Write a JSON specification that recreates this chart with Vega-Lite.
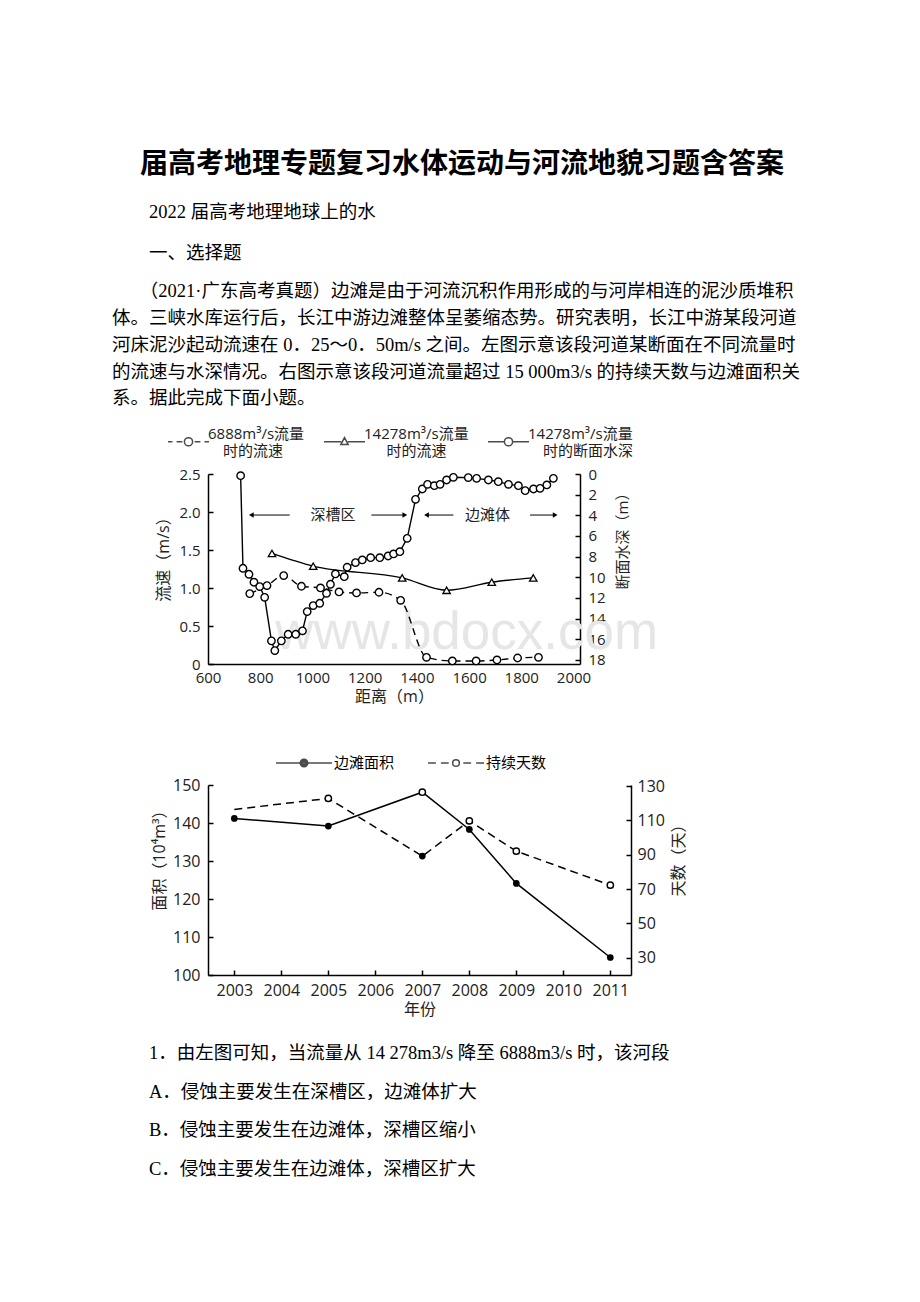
{
  "$schema": "https://vega.github.io/schema/vega-lite/v6.json",
  "autosize": {"type": "none"},
  "padding": {"left": 208, "top": 474, "right": 712, "bottom": 828},
  "background": "white",
  "title": {
    "text": "\u200b\u3000届高考地理专题复习水体运动与河流地貌习题含答案",
    "subtitle": ["\u200b\u3000\u30002022 届高考地理地球上的水", "\u200b\u3000\u3000一、选择题"],
    "anchor": "start", "frame": "group", "dx": -96, "offset": 20,
    "font": "Noto Sans CJK SC", "fontSize": 28, "fontWeight": "bold", "color": "black",
    "subtitleFont": "Liberation Serif, Noto Sans CJK SC", "subtitleFontSize": 18.5, "subtitleColor": "black",
    "subtitleLineHeight": 41, "subtitlePadding": 24
  },
  "datasets": {
    "v6888": [
      {"d": 760, "v": 0.926}, {"d": 826, "v": 1.032}, {"d": 890, "v": 1.164}, {"d": 958, "v": 1.023},
      {"d": 1031, "v": 1.001}, {"d": 1102, "v": 0.948}, {"d": 1169, "v": 0.935}, {"d": 1255, "v": 0.944},
      {"d": 1338, "v": 0.838}, {"d": 1437, "v": 0.088}, {"d": 1536, "v": 0.04}, {"d": 1627, "v": 0.04},
      {"d": 1707, "v": 0.053}, {"d": 1786, "v": 0.079}, {"d": 1866, "v": 0.088}
    ],
    "v14278": [
      {"d": 845, "v": 1.455}, {"d": 1003, "v": 1.287}, {"d": 1344, "v": 1.133},
      {"d": 1514, "v": 0.97}, {"d": 1687, "v": 1.076}, {"d": 1846, "v": 1.133}
    ],
    "depth": [
      {"d": 725, "h": 0.16}, {"d": 734, "h": 9.13}, {"d": 757, "h": 9.71}, {"d": 776, "h": 10.48},
      {"d": 798, "h": 10.9}, {"d": 817, "h": 11.94}, {"d": 843, "h": 16.16}, {"d": 856, "h": 17.1},
      {"d": 881, "h": 16.16}, {"d": 907, "h": 15.52}, {"d": 936, "h": 15.52}, {"d": 962, "h": 15.19},
      {"d": 980, "h": 13.32}, {"d": 1003, "h": 12.74}, {"d": 1028, "h": 12.52}, {"d": 1054, "h": 11.55},
      {"d": 1069, "h": 10.68}, {"d": 1088, "h": 9.68}, {"d": 1122, "h": 9.94}, {"d": 1133, "h": 9.03},
      {"d": 1165, "h": 8.58}, {"d": 1191, "h": 8.32}, {"d": 1223, "h": 8.1}, {"d": 1258, "h": 8.1},
      {"d": 1290, "h": 7.94}, {"d": 1311, "h": 7.74}, {"d": 1335, "h": 7.52}, {"d": 1363, "h": 6.23},
      {"d": 1395, "h": 2.45}, {"d": 1421, "h": 1.45}, {"d": 1441, "h": 1.0}, {"d": 1467, "h": 1.13},
      {"d": 1489, "h": 1.0}, {"d": 1514, "h": 0.58}, {"d": 1540, "h": 0.32}, {"d": 1597, "h": 0.35},
      {"d": 1629, "h": 0.42}, {"d": 1674, "h": 0.58}, {"d": 1712, "h": 0.74}, {"d": 1751, "h": 1.0},
      {"d": 1789, "h": 1.13}, {"d": 1815, "h": 1.61}, {"d": 1847, "h": 1.45}, {"d": 1872, "h": 1.39},
      {"d": 1898, "h": 1.06}, {"d": 1923, "h": 0.42}
    ],
    "ann": [
      {"t": "深槽区", "d": 1079, "v": 1.96},
      {"t": "边滩体", "d": 1671, "v": 1.96}
    ],
    "arrows": [
      {"d": 913, "d2": 766, "v": 1.96, "dir": "l"},
      {"d": 1226, "d2": 1354, "v": 1.96, "dir": "r"},
      {"d": 1540, "d2": 1437, "v": 1.96, "dir": "l"},
      {"d": 1834, "d2": 1930, "v": 1.96, "dir": "r"}
    ],
    "area": [
      {"year": 2003, "a": 141.2}, {"year": 2005, "a": 139.2}, {"year": 2007, "a": 148.1},
      {"year": 2008, "a": 138.3}, {"year": 2009, "a": 124.1}, {"year": 2011, "a": 104.6}
    ],
    "days": [
      {"year": 2003, "n": 116.4}, {"year": 2005, "n": 122.8}, {"year": 2007, "n": 89.2},
      {"year": 2008, "n": 109.7}, {"year": 2009, "n": 92.1}, {"year": 2011, "n": 72.3}
    ]
  },
  "bounds": "flush",
  "spacing": 121,
  "vconcat": [
    {
      "width": 372,
      "height": 190,
      "title": {
        "text": [
          "\u200b\u3000\u3000（2021·广东高考真题）边滩是由于河流沉积作用形成的与河岸相连的泥沙质堆积",
          "体。三峡水库运行后，长江中游边滩整体呈萎缩态势。研究表明，长江中游某段河道",
          "河床泥沙起动流速在 0．25～0．50m/s 之间。左图示意该段河道某断面在不同流量时",
          "的流速与水深情况。右图示意该段河道流量超过 15 000m3/s 的持续天数与边滩面积关",
          "系。据此完成下面小题。"
        ],
        "anchor": "start", "frame": "group", "dx": -96, "offset": 12,
        "font": "Liberation Serif, Noto Sans CJK SC", "fontSize": 18.5, "fontWeight": "normal",
        "color": "black", "lineHeight": 26.8
      },
      "layer": [
        {
          "layer": [
            {
              "data": {"values": [{"t": "www.bdocx.com", "d": 1591, "v": 0.41}]},
              "mark": {"type": "text", "font": "Liberation Sans", "fontSize": 53, "color": "#e6e6e6"},
              "encoding": {
                "x": {"field": "d", "type": "quantitative", "scale": {"domain": [600, 2025], "nice": false, "zero": false},
                  "axis": {"orient": "bottom", "title": "距离（m）", "values": [600, 800, 1000, 1200, 1400, 1600, 1800, 2000], "format": "d",
                    "ticks": false, "labelPadding": 6, "labelFontSize": 15, "titleFontSize": 16, "titlePadding": 3}},
                "y": {"field": "v", "type": "quantitative", "scale": {"domain": [0, 2.5], "nice": false},
                  "axis": {"orient": "left", "title": "流速（m/s）", "values": [0, 0.5, 1, 1.5, 2, 2.5],
                    "labelExpr": "datum.value == 0 ? '0' : format(datum.value, '.1f')",
                    "tickSize": -5, "labelPadding": 13, "labelFontSize": 15, "titleFontSize": 16, "titlePadding": 7, "titleY": 81}},
                "text": {"field": "t"}
              }
            },
            {
              "data": {"name": "v6888"},
              "mark": {"type": "line", "color": "black", "strokeWidth": 1.4, "strokeDash": [7, 5], "interpolate": "monotone",
                "point": {"filled": true, "fill": "white", "stroke": "black", "strokeWidth": 1.4, "size": 55}},
              "encoding": {
                "x": {"field": "d", "type": "quantitative", "scale": {"domain": [600, 2025], "nice": false, "zero": false},
                  "axis": {"orient": "bottom", "title": "距离（m）", "values": [600, 800, 1000, 1200, 1400, 1600, 1800, 2000], "format": "d",
                    "ticks": false, "labelPadding": 6, "labelFontSize": 15, "titleFontSize": 16, "titlePadding": 3}},
                "y": {"field": "v", "type": "quantitative", "scale": {"domain": [0, 2.5], "nice": false},
                  "axis": {"orient": "left", "title": "流速（m/s）", "values": [0, 0.5, 1, 1.5, 2, 2.5],
                    "labelExpr": "datum.value == 0 ? '0' : format(datum.value, '.1f')",
                    "tickSize": -5, "labelPadding": 13, "labelFontSize": 15, "titleFontSize": 16, "titlePadding": 7, "titleY": 81}}
              }
            },
            {
              "data": {"name": "v14278"},
              "mark": {"type": "line", "color": "black", "strokeWidth": 1.4, "interpolate": "monotone",
                "point": {"shape": "triangle-up", "filled": true, "fill": "white", "stroke": "black", "strokeWidth": 1.3, "size": 55}},
              "encoding": {
                "x": {"field": "d", "type": "quantitative", "scale": {"domain": [600, 2025], "nice": false, "zero": false},
                  "axis": {"orient": "bottom", "title": "距离（m）", "values": [600, 800, 1000, 1200, 1400, 1600, 1800, 2000], "format": "d",
                    "ticks": false, "labelPadding": 6, "labelFontSize": 15, "titleFontSize": 16, "titlePadding": 3}},
                "y": {"field": "v", "type": "quantitative", "scale": {"domain": [0, 2.5], "nice": false},
                  "axis": {"orient": "left", "title": "流速（m/s）", "values": [0, 0.5, 1, 1.5, 2, 2.5],
                    "labelExpr": "datum.value == 0 ? '0' : format(datum.value, '.1f')",
                    "tickSize": -5, "labelPadding": 13, "labelFontSize": 15, "titleFontSize": 16, "titlePadding": 7, "titleY": 81}}
              }
            },
            {
              "data": {"name": "ann"},
              "mark": {"type": "text", "font": "Noto Sans CJK SC", "fontSize": 15, "color": "#222"},
              "encoding": {
                "x": {"field": "d", "type": "quantitative", "scale": {"domain": [600, 2025], "nice": false, "zero": false},
                  "axis": {"orient": "bottom", "title": "距离（m）", "values": [600, 800, 1000, 1200, 1400, 1600, 1800, 2000], "format": "d",
                    "ticks": false, "labelPadding": 6, "labelFontSize": 15, "titleFontSize": 16, "titlePadding": 3}},
                "y": {"field": "v", "type": "quantitative", "scale": {"domain": [0, 2.5], "nice": false},
                  "axis": {"orient": "left", "title": "流速（m/s）", "values": [0, 0.5, 1, 1.5, 2, 2.5],
                    "labelExpr": "datum.value == 0 ? '0' : format(datum.value, '.1f')",
                    "tickSize": -5, "labelPadding": 13, "labelFontSize": 15, "titleFontSize": 16, "titlePadding": 7, "titleY": 81}},
                "text": {"field": "t"}
              }
            },
            {
              "data": {"name": "arrows"},
              "mark": {"type": "rule", "color": "black", "strokeWidth": 1},
              "encoding": {
                "x": {"field": "d", "type": "quantitative", "scale": {"domain": [600, 2025], "nice": false, "zero": false},
                  "axis": {"orient": "bottom", "title": "距离（m）", "values": [600, 800, 1000, 1200, 1400, 1600, 1800, 2000], "format": "d",
                    "ticks": false, "labelPadding": 6, "labelFontSize": 15, "titleFontSize": 16, "titlePadding": 3}},
                "x2": {"field": "d2"},
                "y": {"field": "v", "type": "quantitative", "scale": {"domain": [0, 2.5], "nice": false},
                  "axis": {"orient": "left", "title": "流速（m/s）", "values": [0, 0.5, 1, 1.5, 2, 2.5],
                    "labelExpr": "datum.value == 0 ? '0' : format(datum.value, '.1f')",
                    "tickSize": -5, "labelPadding": 13, "labelFontSize": 15, "titleFontSize": 16, "titlePadding": 7, "titleY": 81}}
              }
            },
            {
              "data": {"name": "arrows"},
              "transform": [{"filter": "datum.dir == 'l'"}],
              "mark": {"type": "point", "shape": "triangle-left", "filled": true, "color": "black", "size": 30, "opacity": 1},
              "encoding": {
                "x": {"field": "d2", "type": "quantitative", "scale": {"domain": [600, 2025], "nice": false, "zero": false},
                  "axis": {"orient": "bottom", "title": "距离（m）", "values": [600, 800, 1000, 1200, 1400, 1600, 1800, 2000], "format": "d",
                    "ticks": false, "labelPadding": 6, "labelFontSize": 15, "titleFontSize": 16, "titlePadding": 3}},
                "y": {"field": "v", "type": "quantitative", "scale": {"domain": [0, 2.5], "nice": false},
                  "axis": {"orient": "left", "title": "流速（m/s）", "values": [0, 0.5, 1, 1.5, 2, 2.5],
                    "labelExpr": "datum.value == 0 ? '0' : format(datum.value, '.1f')",
                    "tickSize": -5, "labelPadding": 13, "labelFontSize": 15, "titleFontSize": 16, "titlePadding": 7, "titleY": 81}}
              }
            },
            {
              "data": {"name": "arrows"},
              "transform": [{"filter": "datum.dir == 'r'"}],
              "mark": {"type": "point", "shape": "triangle-right", "filled": true, "color": "black", "size": 30, "opacity": 1},
              "encoding": {
                "x": {"field": "d2", "type": "quantitative", "scale": {"domain": [600, 2025], "nice": false, "zero": false},
                  "axis": {"orient": "bottom", "title": "距离（m）", "values": [600, 800, 1000, 1200, 1400, 1600, 1800, 2000], "format": "d",
                    "ticks": false, "labelPadding": 6, "labelFontSize": 15, "titleFontSize": 16, "titlePadding": 3}},
                "y": {"field": "v", "type": "quantitative", "scale": {"domain": [0, 2.5], "nice": false},
                  "axis": {"orient": "left", "title": "流速（m/s）", "values": [0, 0.5, 1, 1.5, 2, 2.5],
                    "labelExpr": "datum.value == 0 ? '0' : format(datum.value, '.1f')",
                    "tickSize": -5, "labelPadding": 13, "labelFontSize": 15, "titleFontSize": 16, "titlePadding": 7, "titleY": 81}}
              }
            }
          ]
        },
        {
          "layer": [
            {
              "data": {"name": "depth"},
              "mark": {"type": "line", "color": "black", "strokeWidth": 1.4,
                "point": {"filled": true, "fill": "white", "stroke": "black", "strokeWidth": 1.4, "size": 55}},
              "encoding": {
                "x": {"field": "d", "type": "quantitative", "scale": {"domain": [600, 2025], "nice": false, "zero": false},
                  "axis": {"orient": "bottom", "title": "距离（m）", "values": [600, 800, 1000, 1200, 1400, 1600, 1800, 2000], "format": "d",
                    "ticks": false, "labelPadding": 6, "labelFontSize": 15, "titleFontSize": 16, "titlePadding": 3}},
                "y": {"field": "h", "type": "quantitative", "scale": {"domain": [0, 18.4], "nice": false, "reverse": true},
                  "axis": {"orient": "right", "title": "断面水深（m）", "values": [0, 2, 4, 6, 8, 10, 12, 14, 16, 18],
                    "tickSize": -5, "labelPadding": 13, "labelFontSize": 15, "titleFontSize": 15, "titlePadding": 10,
                    "titleAngle": -90, "titleBaseline": "top", "titleY": 63}}
              }
            }
          ]
        },
        {
          "data": {"values": [{"s": "x"}]},
          "transform": [{"filter": "false"}],
          "mark": {"type": "point", "filled": false, "stroke": "black"},
          "encoding": {
            "shape": {
              "field": "s", "type": "nominal",
              "scale": {
                "domain": ["6888m³/s流量|\u200b\u3000时的流速", "14278m³/s流量|\u200b\u3000\u2002时的流速", "14278m³/s流量|\u200b\u3000时的断面水深"],
                "range": [
                  "M-1,0H-0.78M-0.58,0H-0.3M-0.2,0A0.2,0.2 0 1,0 0.2,0A0.2,0.2 0 1,0 -0.2,0M0.3,0H0.58M0.78,0H1",
                  "M-1,0H-0.16M0.16,0H1M0,-0.2L0.18,0.14L-0.18,0.14Z",
                  "M-1,0H-0.2M-0.2,0A0.2,0.2 0 1,0 0.2,0A0.2,0.2 0 1,0 -0.2,0M0.2,0H1"
                ]
              },
              "legend": {
                "orient": "none", "legendX": -41, "legendY": -54, "direction": "horizontal", "columns": 3,
                "title": null, "padding": 0, "symbolSize": 1681,
                "labelExpr": "split(datum.label, '|')", "labelFont": "Open Sans, Noto Sans CJK SC",
                "labelFontSize": 15, "labelColor": "#222", "labelAlign": "left", "labelBaseline": "bottom",
                "labelOffset": -2, "labelLimit": 0, "columnPadding": 16,
                "encode": {
                  "symbols": {"update": {
                    "stroke": {"value": "black"}, "strokeWidth": {"value": 1.3},
                    "fill": {"value": "white"}, "opacity": {"value": 1}, "fillOpacity": {"value": 1}, "strokeOpacity": {"value": 1}
                  }}
                }
              }
            }
          }
        }
      ],
      "resolve": {"scale": {"y": "independent"}}
    },
    {
      "width": 423,
      "height": 190,
      "title": {
        "text": [
          "\u200b\u3000\u30001．由左图可知，当流量从 14 278m3/s 降至 6888m3/s 时，该河段",
          "\u200b\u3000\u3000A．侵蚀主要发生在深槽区，边滩体扩大",
          "\u200b\u3000\u3000B．侵蚀主要发生在边滩体，深槽区缩小",
          "\u200b\u3000\u3000C．侵蚀主要发生在边滩体，深槽区扩大"
        ],
        "orient": "bottom", "anchor": "start", "frame": "group", "dx": -96, "offset": 27,
        "font": "Liberation Serif, Noto Sans CJK SC", "fontSize": 18.5, "fontWeight": "normal",
        "color": "black", "lineHeight": 38.7
      },
      "layer": [
        {
          "layer": [
            {
              "data": {"name": "area"},
              "mark": {"type": "line", "color": "black", "strokeWidth": 1.5},
              "encoding": {
                "x": {"field": "year", "type": "quantitative", "scale": {"domain": [2002.44, 2011.44], "nice": false, "zero": false},
                  "axis": {"orient": "bottom", "title": "年份", "values": [2003, 2004, 2005, 2006, 2007, 2008, 2009, 2010, 2011], "format": "d",
                    "tickSize": -5, "labelPadding": 12, "labelFontSize": 16, "titleFontSize": 16, "titlePadding": 3}},
                "y": {"field": "a", "type": "quantitative", "scale": {"domain": [100, 150], "nice": false, "zero": false},
                  "axis": {"orient": "left", "title": "面积（10⁴m³）", "values": [100, 110, 120, 130, 140, 150],
                    "tickSize": -5, "labelPadding": 13, "labelFontSize": 16, "titleFontSize": 16, "titlePadding": 5, "titleY": 71}}
              }
            },
            {
              "data": {"name": "area"},
              "transform": [{"filter": "datum.year != 2007"}],
              "mark": {"type": "point", "filled": true, "color": "black", "size": 45, "opacity": 1},
              "encoding": {
                "x": {"field": "year", "type": "quantitative", "scale": {"domain": [2002.44, 2011.44], "nice": false, "zero": false},
                  "axis": {"orient": "bottom", "title": "年份", "values": [2003, 2004, 2005, 2006, 2007, 2008, 2009, 2010, 2011], "format": "d",
                    "tickSize": -5, "labelPadding": 12, "labelFontSize": 16, "titleFontSize": 16, "titlePadding": 3}},
                "y": {"field": "a", "type": "quantitative", "scale": {"domain": [100, 150], "nice": false, "zero": false},
                  "axis": {"orient": "left", "title": "面积（10⁴m³）", "values": [100, 110, 120, 130, 140, 150],
                    "tickSize": -5, "labelPadding": 13, "labelFontSize": 16, "titleFontSize": 16, "titlePadding": 5, "titleY": 71}}
              }
            },
            {
              "data": {"name": "area"},
              "transform": [{"filter": "datum.year == 2007"}],
              "mark": {"type": "point", "filled": true, "fill": "white", "stroke": "black", "strokeWidth": 1.4, "size": 40, "opacity": 1},
              "encoding": {
                "x": {"field": "year", "type": "quantitative", "scale": {"domain": [2002.44, 2011.44], "nice": false, "zero": false},
                  "axis": {"orient": "bottom", "title": "年份", "values": [2003, 2004, 2005, 2006, 2007, 2008, 2009, 2010, 2011], "format": "d",
                    "tickSize": -5, "labelPadding": 12, "labelFontSize": 16, "titleFontSize": 16, "titlePadding": 3}},
                "y": {"field": "a", "type": "quantitative", "scale": {"domain": [100, 150], "nice": false, "zero": false},
                  "axis": {"orient": "left", "title": "面积（10⁴m³）", "values": [100, 110, 120, 130, 140, 150],
                    "tickSize": -5, "labelPadding": 13, "labelFontSize": 16, "titleFontSize": 16, "titlePadding": 5, "titleY": 71}}
              }
            }
          ]
        },
        {
          "layer": [
            {
              "data": {"name": "days"},
              "mark": {"type": "line", "color": "black", "strokeWidth": 1.5, "strokeDash": [8, 5]},
              "encoding": {
                "x": {"field": "year", "type": "quantitative", "scale": {"domain": [2002.44, 2011.44], "nice": false, "zero": false},
                  "axis": {"orient": "bottom", "title": "年份", "values": [2003, 2004, 2005, 2006, 2007, 2008, 2009, 2010, 2011], "format": "d",
                    "tickSize": -5, "labelPadding": 12, "labelFontSize": 16, "titleFontSize": 16, "titlePadding": 3}},
                "y": {"field": "n", "type": "quantitative", "scale": {"domain": [20, 130.6], "nice": false, "zero": false},
                  "axis": {"orient": "right", "title": "天数（天）", "values": [30, 50, 70, 90, 110, 130],
                    "tickSize": -5, "labelPadding": 11, "labelFontSize": 16, "titleFontSize": 16, "titlePadding": 6,
                    "titleAngle": -90, "titleBaseline": "top", "titleY": 71}}
              }
            },
            {
              "data": {"name": "days"},
              "transform": [{"filter": "datum.year != 2003 && datum.year != 2007"}],
              "mark": {"type": "point", "filled": true, "fill": "white", "stroke": "black", "strokeWidth": 1.4, "size": 40, "opacity": 1},
              "encoding": {
                "x": {"field": "year", "type": "quantitative", "scale": {"domain": [2002.44, 2011.44], "nice": false, "zero": false},
                  "axis": {"orient": "bottom", "title": "年份", "values": [2003, 2004, 2005, 2006, 2007, 2008, 2009, 2010, 2011], "format": "d",
                    "tickSize": -5, "labelPadding": 12, "labelFontSize": 16, "titleFontSize": 16, "titlePadding": 3}},
                "y": {"field": "n", "type": "quantitative", "scale": {"domain": [20, 130.6], "nice": false, "zero": false},
                  "axis": {"orient": "right", "title": "天数（天）", "values": [30, 50, 70, 90, 110, 130],
                    "tickSize": -5, "labelPadding": 11, "labelFontSize": 16, "titleFontSize": 16, "titlePadding": 6,
                    "titleAngle": -90, "titleBaseline": "top", "titleY": 71}}
              }
            },
            {
              "data": {"name": "days"},
              "transform": [{"filter": "datum.year == 2007"}],
              "mark": {"type": "point", "filled": true, "color": "black", "size": 45, "opacity": 1},
              "encoding": {
                "x": {"field": "year", "type": "quantitative", "scale": {"domain": [2002.44, 2011.44], "nice": false, "zero": false},
                  "axis": {"orient": "bottom", "title": "年份", "values": [2003, 2004, 2005, 2006, 2007, 2008, 2009, 2010, 2011], "format": "d",
                    "tickSize": -5, "labelPadding": 12, "labelFontSize": 16, "titleFontSize": 16, "titlePadding": 3}},
                "y": {"field": "n", "type": "quantitative", "scale": {"domain": [20, 130.6], "nice": false, "zero": false},
                  "axis": {"orient": "right", "title": "天数（天）", "values": [30, 50, 70, 90, 110, 130],
                    "tickSize": -5, "labelPadding": 11, "labelFontSize": 16, "titleFontSize": 16, "titlePadding": 6,
                    "titleAngle": -90, "titleBaseline": "top", "titleY": 71}}
              }
            }
          ]
        },
        {
          "data": {"values": [{"s": "x"}]},
          "transform": [{"filter": "false"}],
          "mark": {"type": "point", "filled": false, "stroke": "black"},
          "encoding": {
            "shape": {
              "field": "s", "type": "nominal",
              "scale": {
                "domain": ["边滩面积", "持续天数"],
                "range": [
                  "M-1,0H-0.135M-0.135,0A0.135,0.135 0 1,0 0.135,0A0.135,0.135 0 1,0 -0.135,0M-0.09,0A0.09,0.09 0 1,0 0.09,0A0.09,0.09 0 1,0 -0.09,0M-0.048,0A0.048,0.048 0 1,0 0.048,0A0.048,0.048 0 1,0 -0.048,0M-0.012,0A0.012,0.012 0 1,0 0.012,0A0.012,0.012 0 1,0 -0.012,0M0.135,0H1",
                  "M-1,0H-0.72M-0.54,0H-0.26M-0.12,0A0.12,0.12 0 1,0 0.12,0A0.12,0.12 0 1,0 -0.12,0M0.26,0H0.54M0.72,0H1"
                ]
              },
              "legend": {
                "orient": "none", "legendX": 67, "legendY": -51, "direction": "horizontal", "columns": 2,
                "title": null, "padding": 0, "symbolSize": 3136,
                "labelFont": "Noto Sans CJK SC", "labelFontSize": 15, "labelColor": "black",
                "labelAlign": "left", "labelBaseline": "middle", "labelOffset": 1, "labelLimit": 0, "columnPadding": 30,
                "encode": {"symbols": {"update": {
                  "stroke": {"value": "black"}, "strokeWidth": {"value": 1.5},
                  "fill": {"value": "white"},
                  "opacity": {"value": 1}, "fillOpacity": {"value": 1}, "strokeOpacity": {"value": 1}
                }}}
              }
            }
          }
        }
      ],
      "resolve": {"scale": {"y": "independent"}}
    }
  ],
  "resolve": {"scale": {"shape": "independent"}, "legend": {"shape": "independent"}},
  "config": {
    "view": {"stroke": null},
    "axis": {
      "grid": false, "domainColor": "black", "domainWidth": 1.5, "tickColor": "black", "tickWidth": 1.5,
      "labelFont": "Open Sans", "labelColor": "#222", "titleFont": "Open Sans, Noto Sans CJK SC",
      "titleFontWeight": "normal", "titleColor": "#222", "labelFlush": false, "labelOverlap": false
    }
  }
}
